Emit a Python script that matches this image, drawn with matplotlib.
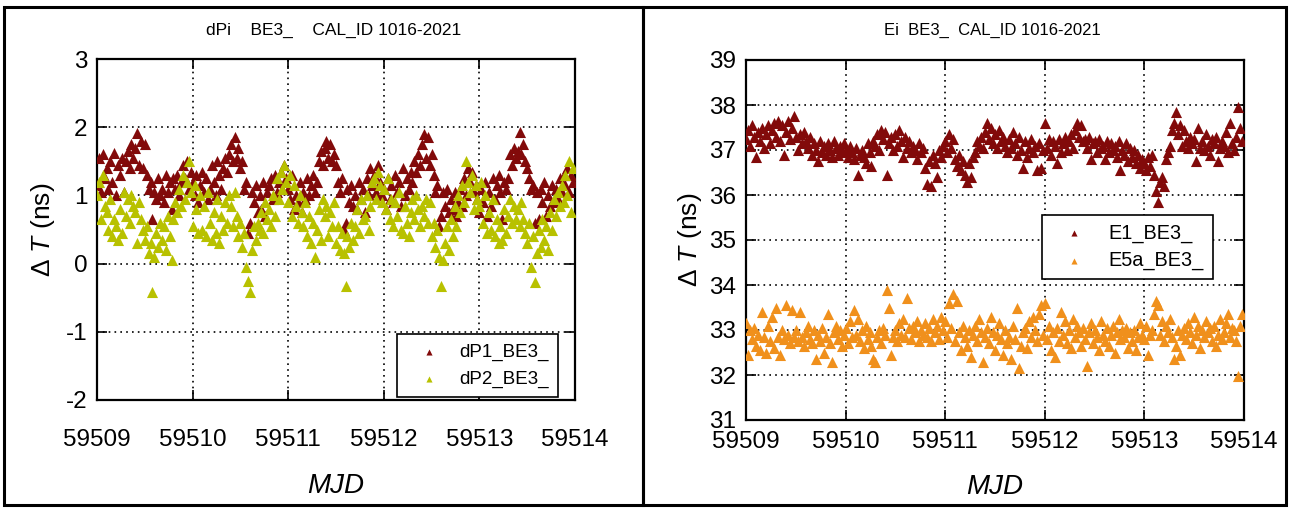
"""
Calibration BE3_ (CAL_ID 1016-2021) : écarts dPi et Ei en fonction du MJD
"""
import numpy as np
import matplotlib
matplotlib.use('Agg')
import matplotlib.pyplot as plt
from matplotlib.patches import Rectangle

plt.rcParams['font.family'] = ['Liberation Sans', 'DejaVu Sans']
plt.rcParams['mathtext.fontset'] = 'custom'
plt.rcParams['mathtext.rm'] = 'Liberation Sans'
plt.rcParams['mathtext.it'] = 'Liberation Sans:italic'
plt.rcParams['axes.unicode_minus'] = False

# Epoques : 50 points par jour entre 59509 et 59514
mjd_start = 59509
points_per_day = 50

# dP1_BE3_ (ns), une ligne = 0.2 jour
dP1 = [
    1.15, 1.55, 1.05, 1.60, 1.25, 1.40, 1.10, 1.50, 1.20, 1.62,
    1.00, 1.45, 1.30, 1.55, 1.05, 1.50, 1.65, 1.40, 1.75, 1.55,
    1.70, 1.92, 1.45, 1.80, 1.40, 1.75, 1.30, 1.10, 1.20, 0.65,
    1.05, 0.95, 1.25, 1.00, 1.10, 0.90, 1.30, 1.05, 1.20, 0.80,
    1.25, 1.10, 1.30, 1.00, 1.20, 1.45, 1.25, 1.50, 1.10, 1.35,
    1.20, 1.00, 1.30, 0.90, 1.15, 1.35, 1.05, 1.25, 0.95, 1.10,
    1.45, 1.20, 1.00, 1.50, 1.30, 1.10, 1.40, 1.55, 1.35, 1.60,
    1.75, 1.50, 1.85, 1.55, 1.70, 1.40, 1.50, 1.10, 1.20, 0.45,
    0.60, 1.05, 0.90, 1.15, 0.75, 1.00, 0.80, 1.20, 0.70, 1.05,
    1.15, 1.25, 0.95, 1.30, 1.05, 1.20, 1.35, 1.10, 1.45, 1.25,
    1.10, 0.95, 1.30, 0.80, 1.00, 0.90, 1.20, 0.75, 1.05, 0.95,
    1.25, 1.00, 1.15, 1.30, 1.05, 1.20, 1.50, 1.65, 1.45, 1.70,
    1.80, 1.55, 1.75, 1.50, 1.60, 1.45, 1.20, 1.05, 1.25, 0.50,
    0.60, 1.10, 0.90, 1.15, 0.85, 1.00, 0.80, 1.20, 0.95, 1.10,
    0.75, 1.25, 1.00, 1.40, 1.15, 1.30, 1.05, 1.45, 1.20, 1.00,
    1.10, 0.80, 1.25, 0.95, 1.15, 0.90, 1.30, 1.05, 1.20, 0.85,
    1.40, 1.00, 1.25, 1.10, 1.35, 1.20, 1.50, 1.35, 1.60, 1.45,
    1.75, 1.90, 1.55, 1.85, 1.45, 1.60, 1.30, 1.05, 1.15, 0.55,
    0.70, 1.05, 0.85, 1.10, 0.75, 0.95, 0.80, 1.05, 0.70, 0.90,
    1.10, 0.85, 1.25, 1.00, 1.40, 1.20, 1.35, 1.05, 1.15, 0.95,
    0.75, 1.10, 0.90, 1.20, 0.70, 1.05, 0.85, 1.25, 0.95, 1.15,
    1.30, 1.05, 0.65, 1.20, 1.10, 1.25, 1.60, 1.45, 1.70, 1.55,
    1.65, 1.93, 1.60, 1.75, 1.50, 1.40, 1.25, 1.10, 1.15, 0.60,
    1.05, 0.65, 1.10, 0.90, 1.20, 0.70, 1.00, 0.85, 1.15, 0.90,
    1.10, 0.95, 1.25, 1.05, 1.30, 1.15, 1.40, 1.05, 1.30, 1.20,
]

# dP2_BE3_ (ns)
dP2 = [
    1.00, 1.20, 0.65, 1.30, 0.85, 0.75, 0.50, 0.95, 0.40, 0.65,
    0.55, 0.35, 0.80, 0.45, 1.05, 0.70, 0.95, 0.60, 1.00, 0.85,
    0.75, 0.30, 0.90, 0.65, 0.50, 0.35, 0.55, 0.15, 0.30, -0.42,
    0.10, 0.45, 0.25, 0.60, 0.35, 0.55, 0.20, 0.70, 0.40, 0.05,
    0.65, 0.90, 0.75, 1.10, 0.85, 1.30, 0.95, 1.20, 1.50, 1.05,
    0.55, 1.15, 0.80, 0.45, 1.00, 0.50, 0.85, 0.40, 1.05, 0.60,
    0.35, 0.75, 0.45, 0.95, 0.30, 0.70, 0.50, 0.90, 0.60, 1.00,
    0.85, 0.55, 1.05, 0.70, 0.40, 0.60, 0.25, 0.45, -0.05, -0.25,
    -0.42, 0.20, 0.55, 0.35, 0.60, 0.50, 0.75, 0.45, 0.90, 0.65,
    0.80, 0.55, 1.00, 0.70, 1.25, 0.95, 1.35, 1.10, 1.45, 1.20,
    0.90, 1.30, 0.70, 1.15, 0.85, 0.60, 1.00, 0.75, 0.55, 0.90,
    0.40, 0.70, 0.30, 0.60, 0.10, 0.50, 0.80, 0.35, 0.95, 0.70,
    0.85, 0.40, 0.75, 0.55, 0.90, 0.30, 0.55, 0.20, 0.45, 0.15,
    -0.33, 0.40, 0.25, 0.60, 0.35, 0.55, 0.80, 0.45, 0.95, 0.65,
    0.70, 1.00, 0.50, 0.85, 1.20, 1.25, 0.95, 1.35, 1.15, 0.90,
    1.10, 0.80, 1.25, 0.65, 0.95, 0.55, 0.90, 0.70, 1.05, 0.50,
    0.45, 0.85, 0.60, 0.40, 0.75, 0.95, 0.65, 1.00, 0.80, 0.55,
    0.85, 0.70, 0.95, 0.60, 0.90, 0.40, 0.60, 0.25, 0.50, 0.10,
    -0.33, 0.05, 0.30, 0.55, 0.20, 0.65, 0.40, 0.85, 0.55, 1.00,
    0.75, 1.15, 0.90, 1.50, 1.20, 1.05, 1.30, 0.80, 1.15, 0.95,
    0.85, 1.20, 0.60, 1.00, 0.45, 0.75, 0.50, 0.95, 0.40, 0.65,
    0.30, 0.55, 0.35, 0.80, 0.45, 0.70, 0.95, 0.60, 0.85, 0.65,
    0.80, 0.55, 0.90, 0.65, 0.45, 0.30, 0.60, -0.05, 0.40, -0.27,
    0.15, 0.50, 0.25, 0.65, 0.35, 0.55, 0.20, 0.75, 0.50, 0.95,
    0.70, 1.05, 0.85, 1.15, 0.90, 1.30, 1.00, 1.50, 0.75, 1.40,
]

# E1_BE3_ (ns)
E1 = [
    37.25, 37.45, 37.10, 37.55, 37.30, 36.85, 37.40, 37.20, 37.50, 37.05,
    37.35, 37.55, 37.15, 37.45, 37.60, 37.30, 37.65, 37.20, 37.55, 36.90,
    37.40, 37.65, 37.25, 37.50, 37.75, 37.30, 37.00, 37.35, 37.15, 37.40,
    37.20, 37.05, 37.30, 36.90, 37.15, 37.00, 36.75, 37.20, 36.95, 37.10,
    36.90, 37.15, 37.00, 36.85, 37.20, 37.05, 36.90, 37.10, 36.95, 37.15,
    37.00, 36.85, 37.10, 36.95, 36.80, 37.05, 36.45, 36.90, 37.00, 36.85,
    36.70, 37.15, 36.95, 36.65, 37.20, 37.10, 37.35, 37.00, 37.45, 37.25,
    37.40, 36.45, 37.15, 37.30, 37.00, 37.35, 37.10, 37.45, 37.20, 36.85,
    37.30, 37.05, 37.20, 36.95, 37.10, 37.00, 36.80, 37.15, 36.95, 37.05,
    36.60, 36.25, 36.75, 36.20, 36.90, 36.70, 36.40, 37.00, 36.85, 37.10,
    37.20, 36.95, 37.35, 37.05, 37.25, 36.80, 36.65, 36.90, 36.55, 36.75,
    36.45, 36.30, 36.70, 36.40, 36.85, 36.95, 37.20, 37.10, 37.30, 37.05,
    37.40, 37.60, 37.25, 37.50, 37.15, 37.35, 37.05, 37.45, 37.20, 37.30,
    37.10, 36.95, 37.25, 37.05, 37.40, 37.15, 36.90, 37.30, 37.00, 36.60,
    37.20, 36.85, 37.05, 37.25, 36.95, 37.10, 36.55, 37.15, 36.60, 37.00,
    37.60, 37.05, 37.25, 36.90, 37.20, 37.10, 36.70, 37.25, 36.95, 37.15,
    37.30, 37.00, 37.20, 37.35, 37.05, 37.45, 37.60, 37.30, 37.55, 37.20,
    37.25, 37.05, 37.30, 36.80, 37.15, 37.20, 36.95, 37.25, 37.05, 37.10,
    36.80, 37.20, 36.95, 37.15, 37.00, 37.10, 36.85, 37.20, 36.55, 37.00,
    36.90, 37.15, 36.75, 37.05, 36.85, 37.00, 36.70, 36.90, 36.60, 36.80,
    36.70, 36.55, 36.85, 36.65, 36.90, 36.45, 36.10, 35.85, 36.30, 36.40,
    36.20, 36.80, 36.95, 37.10, 37.45, 37.60, 37.85, 37.35, 37.55, 37.10,
    37.45, 37.20, 37.05, 37.30, 37.15, 37.25, 36.75, 37.50, 37.05, 37.20,
    37.00, 37.35, 37.10, 36.90, 37.25, 37.15, 37.30, 36.75, 37.05, 37.20,
    37.10, 37.40, 36.95, 37.60, 37.15, 37.00, 37.30, 37.95, 37.50, 37.20,
]

# E5a_BE3_ (ns)
E5a = [
    33.15, 32.45, 33.00, 32.80, 33.05, 32.65, 32.90, 32.55, 33.40, 32.85,
    32.50, 33.10, 32.75, 33.30, 32.60, 33.50, 32.85, 32.45, 33.00, 32.80,
    33.55, 32.90, 32.70, 33.45, 32.85, 33.00, 32.75, 33.40, 32.85, 32.65,
    32.95, 33.10, 32.80, 32.70, 33.00, 32.35, 32.90, 32.75, 33.05, 32.50,
    32.85, 33.35, 32.70, 32.30, 32.95, 33.10, 32.80, 33.00, 32.65, 32.90,
    33.05, 32.70, 33.20, 32.85, 33.45, 32.90, 33.25, 32.75, 33.00, 32.60,
    33.10, 32.80, 32.95, 32.65, 32.35, 32.30, 32.85, 33.00, 32.70, 33.05,
    32.90, 33.90, 33.50, 32.45, 32.85, 33.00, 32.75, 33.15, 32.90, 33.25,
    32.85, 33.70, 33.05, 32.80, 33.10, 32.95, 33.20, 32.75, 33.00, 32.90,
    33.15, 32.85, 33.05, 32.75, 33.25, 32.95, 33.10, 32.80, 33.30, 33.00,
    33.20, 32.85, 33.60, 33.05, 33.80, 32.75, 33.65, 32.95, 32.55, 33.10,
    32.85, 32.65, 33.00, 32.40, 32.90, 33.10, 32.75, 33.25, 32.95, 32.30,
    32.85, 33.05, 32.70, 33.30, 32.95, 32.55, 32.90, 33.15, 32.80, 32.45,
    33.00, 32.70, 32.85, 32.35, 33.10, 32.80, 33.50, 32.15, 32.65, 32.95,
    33.05, 32.60, 33.20, 32.85, 33.30, 33.00, 32.75, 33.35, 33.55, 32.90,
    33.60, 32.80, 33.10, 32.55, 32.95, 32.40, 33.05, 32.75, 33.40, 32.90,
    33.20, 32.70, 33.00, 32.60, 33.25, 32.85, 33.10, 32.95, 32.65, 33.05,
    32.80, 32.20, 32.95, 33.15, 32.70, 33.00, 32.85, 32.55, 33.20, 32.90,
    32.75, 33.05, 32.65, 32.90, 33.10, 32.50, 32.95, 33.25, 32.80, 33.00,
    32.85, 33.05, 32.60, 32.95, 32.75, 33.00, 32.55, 32.85, 33.15, 32.90,
    32.80, 33.10, 32.45, 32.90, 33.00, 33.35, 33.65, 33.55, 32.90, 33.20,
    32.75, 33.10, 32.95, 33.25, 32.85, 32.35, 32.65, 33.00, 32.45, 32.90,
    33.05, 32.80, 33.15, 32.95, 32.70, 33.30, 32.90, 33.10, 32.60, 33.00,
    32.85, 33.20, 32.95, 33.05, 32.75, 33.10, 32.65, 32.90, 33.25, 32.80,
    32.95, 33.15, 33.35, 32.85, 33.05, 33.00, 32.75, 31.98, 33.10, 33.35,
]

mjd_ticks = [59509, 59510, 59511, 59512, 59513, 59514]

DARK_RED = '#820a0a'
OLIVE = '#b8c100'
ORANGE = '#f0901c'
MARKER_SIZE = 64

W, H = 1290, 508


def fig_box(x0, y0, x1, y1):
    """Convertit un cadre en pixels (origine en haut à gauche) en fractions de figure"""
    return [x0 / W, 1 - y1 / H, (x1 - x0) / W, (y1 - y0) / H]


def style_axes(ax, ylim, yticks, xpad, xlabelpad):
    ax.set_xlim(mjd_ticks[0], mjd_ticks[-1])
    ax.set_ylim(*ylim)
    ax.set_xticks(mjd_ticks)
    ax.set_xticklabels([str(t) for t in mjd_ticks])
    ax.set_yticks(yticks)
    ax.tick_params(direction='in', length=7, width=1.2, top=True, right=True,
                   labelsize=17.5, color='black')
    ax.tick_params(axis='x', pad=xpad)
    ax.tick_params(axis='y', pad=7)
    ax.grid(True, color='black', linestyle=(0, (1, 2.5)), linewidth=1.2)
    ax.set_axisbelow(True)
    for sp in ax.spines.values():
        sp.set_linewidth(1.6)
    ax.set_xlabel('MJD', fontsize=20, style='italic', labelpad=xlabelpad)


fig = plt.figure(figsize=(W / 100, H / 100), dpi=100)

t = mjd_start + np.arange(len(dP1)) / points_per_day

# Panneau de gauche : dPi
ax1 = fig.add_axes(fig_box(97, 59, 575, 400))
ax1.scatter(t, dP1, marker='^', s=MARKER_SIZE, color=DARK_RED, linewidths=0, label='dP1_BE3_', zorder=3)
ax1.scatter(t, dP2, marker='^', s=MARKER_SIZE, color=OLIVE, linewidths=0, label='dP2_BE3_', zorder=3)
style_axes(ax1, (-2, 3), [-2, -1, 0, 1, 2, 3], xpad=21, xlabelpad=16)
ax1.set_ylabel(r'$\Delta\ \mathit{T}$ (ns)', fontsize=19, labelpad=6)
leg1 = ax1.legend(loc='lower right', bbox_to_anchor=(558 / W, 1 - 397 / H),
                  bbox_transform=fig.transFigure, borderaxespad=0,
                  fontsize=13.5, frameon=True, fancybox=False, framealpha=1,
                  edgecolor='black', scatterpoints=1, markerscale=0.55,
                  handlelength=2.4, handletextpad=0.4, labelspacing=0.5,
                  borderpad=0.5)
leg1.get_frame().set_linewidth(1.2)
fig.text(334 / W, 1 - 30 / H, 'dPi    BE3_    CAL_ID 1016-2021', ha='center', va='center', fontsize=12.5)

# Panneau de droite : Ei
ax2 = fig.add_axes(fig_box(746, 60, 1244, 420))
ax2.scatter(t, E1, marker='^', s=MARKER_SIZE, color=DARK_RED, linewidths=0, label='E1_BE3_', zorder=3)
ax2.scatter(t, E5a, marker='^', s=MARKER_SIZE, color=ORANGE, linewidths=0, label='E5a_BE3_', zorder=3)
style_axes(ax2, (31, 39), list(range(31, 40)), xpad=8, xlabelpad=15)
ax2.set_ylabel(r'$\Delta\ \mathit{T}$ (ns)', fontsize=19, labelpad=4)
leg2 = ax2.legend(loc='lower right', bbox_to_anchor=(1213 / W, 1 - 279 / H),
                  bbox_transform=fig.transFigure, borderaxespad=0,
                  fontsize=14.3, frameon=True, fancybox=False, framealpha=1,
                  edgecolor='black', scatterpoints=1, markerscale=0.55,
                  handlelength=2.3, handletextpad=0.6, labelspacing=0.4,
                  borderpad=0.45)
leg2.get_frame().set_linewidth(1.2)
fig.text(992 / W, 1 - 30 / H, 'Ei  BE3_  CAL_ID 1016-2021', ha='center', va='center', fontsize=12)

# Cadres autour des deux panneaux
for x0, x1 in [(4, 643), (643, 1286)]:
    fig.patches.append(Rectangle((x0 / W, 1 - 505 / H), (x1 - x0) / W, 498 / H,
                                 transform=fig.transFigure, fill=False,
                                 edgecolor='black', linewidth=2.2))

fig.savefig('out.png', dpi=100)
